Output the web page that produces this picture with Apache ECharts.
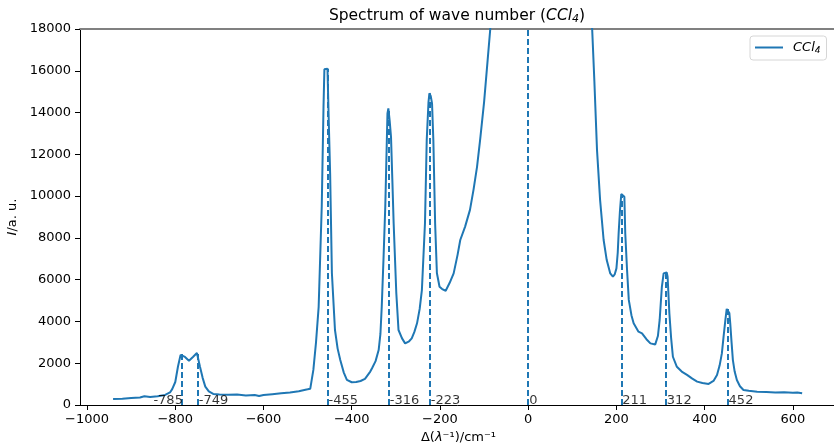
<!DOCTYPE html>
<html>
<head>
<meta charset="utf-8">
<script src="https://cdn.jsdelivr.net/npm/echarts@6/dist/echarts.min.js"></script>
<style>
  html, body { margin: 0; padding: 0; background: #fff; }
  #chart { width: 834px; height: 448px; }
</style>
</head>
<body>
<div id="chart"></div>
<script>
// spectrum (Δλ⁻¹ in cm⁻¹, intensity in a.u.)
const shift = [
  -941, -920, -900, -880, -870, -857, -840, -823, -812, -807, -800, -794, -788, -785, -778, -769,
  -760, -751, -744, -738, -732, -724, -714, -700, -680, -660, -640, -620, -610, -600, -580, -560,
  -540, -520, -500, -494, -487, -481, -475, -468, -464, -462, -459, -455, -452, -449, -445, -438,
  -432, -426, -418, -411, -400, -390, -380, -370, -366, -358, -354, -346, -339, -335, -332, -328,
  -324, -319, -317, -314, -311, -308, -305, -299, -294, -286, -279, -270, -264, -258, -252, -246,
  -241, -234, -230, -226, -224, -221, -218, -215, -211, -207, -201, -195, -187, -178, -169, -160,
  -154, -143, -132, -124, -116, -109, -100, -92, -86, -70, -50, -30, -15, 0, 15, 30,
  50, 80, 110, 130, 145, 150, 156, 163, 171, 178, 186, 192, 196, 200, 203, 205,
  208, 211, 215, 218, 220, 224, 228, 234, 239, 250, 258, 268, 277, 288, 294, 298,
  303, 307, 311, 314, 316, 320, 324, 328, 337, 348, 360, 372, 383, 395, 409, 420,
  428, 434, 439, 443, 447, 450, 453, 456, 458, 461, 464, 468, 473, 480, 488, 500,
  519, 540, 560, 580, 600, 610, 621
];
const intensity = [
  290, 300, 330, 360, 420, 380, 420, 480, 600, 760, 1100, 1830, 2400, 2490, 2300, 2120,
  2300, 2490, 1830, 1300, 880, 650, 530, 500, 490, 500, 460, 480, 430, 480, 520, 560,
  600, 660, 750, 780, 1680, 3000, 4700, 9500, 14280, 16070, 16100, 16100, 13500, 11100, 6320, 3590,
  2700, 2150, 1550, 1200, 1090, 1100, 1150, 1250, 1330, 1600, 1760, 2100, 2630, 3400, 4700, 7000,
  9490, 13960, 14200, 13600, 12840, 10800, 8700, 5360, 3590, 3190, 2950, 3050, 3190, 3500, 3910, 4600,
  5500, 8700, 12690, 14500, 14920, 14800, 14440, 12690, 8700, 6320, 5660, 5550, 5470, 5850, 6300, 7200,
  7900, 8540, 9340, 10300, 11400, 12690, 14500, 16500, 18000, 22000, 28000, 38000, 50000, 60000, 50000, 40000,
  30000, 24000, 21000, 19500, 18000, 15500, 12200, 9810, 7900, 6940, 6300, 6140, 6250, 6540, 7300, 8220,
  9300, 10100, 10100, 9970, 8220, 6500, 5030, 4300, 3910, 3510, 3430, 3150, 2950, 2900, 3300, 4070,
  5660, 6300, 6380, 6350, 6140, 4390, 3200, 2310, 1830, 1600, 1440, 1260, 1120, 1050, 1010, 1150,
  1440, 1900, 2470, 3300, 4070, 4600, 4660, 4400, 3910, 3000, 2150, 1600, 1200, 900, 720, 680,
  640, 620, 600, 610, 590, 600, 560
];

// marked peaks and the height each dashed line reaches
const peakShift = [-785, -749, -455, -316, -223, 0, 211, 312, 452];
const peakHeight = [2490, 2490, 16100, 14200, 14920, 18000, 10100, 6380, 4660];

const xTicks = [-1000, -800, -600, -400, -200, 0, 200, 400, 600];

const BLUE = '#1f77b4';
const FONT = 'DejaVu Sans';

const chart = echarts.init(document.getElementById('chart'), null, { renderer: 'canvas' });

const titleRich = {
  n: { fontFamily: FONT, fontSize: 15.5, fontWeight: 'normal', color: '#000' },
  i: { fontFamily: FONT, fontSize: 15.5, fontWeight: 'normal', fontStyle: 'italic', color: '#000' },
  s: { fontFamily: FONT, fontSize: 11, fontWeight: 'normal', fontStyle: 'italic', color: '#000', padding: [8, 0, 0, 0] }
};

chart.setOption({
  animation: false,
  title: {
    text: '{n|Spectrum of wave number (}{i|CCl}{s|4}{n|)}',
    left: 452,
    top: 1,
    textAlign: 'center',
    textStyle: { fontWeight: 'normal', rich: titleRich }
  },
  legend: {
    left: 750,
    top: 36,
    padding: [5, 6, 5, 5],
    borderColor: '#d6d6d6',
    borderWidth: 1,
    borderRadius: 3,
    icon: 'rect',
    itemWidth: 28,
    itemHeight: 2,
    data: ['CCl4'],
    formatter: () => '{i|CCl}{s|4}',
    textStyle: {
      padding: [0, 0, 0, 5],
      rich: {
        i: { fontFamily: FONT, fontSize: 13, fontStyle: 'italic', color: '#000' },
        s: { fontFamily: FONT, fontSize: 9, fontStyle: 'italic', color: '#000', padding: [6, 0, 0, 0] }
      }
    }
  },
  grid: { left: 80, width: 757, top: 29, height: 376, containLabel: false, outerBoundsMode: 'none' },
  xAxis: [{
    type: 'value',
    min: -1016,
    max: 700,
    name: '{n|Δ(}{i|λ}{n|⁻¹)/cm⁻¹}',
    nameLocation: 'middle',
    nameGap: 26,
    nameTextStyle: {
      rich: {
        n: { fontFamily: FONT, fontSize: 13, color: '#000' },
        i: { fontFamily: FONT, fontSize: 13, fontStyle: 'italic', color: '#000' }
      }
    },
    splitLine: { show: false },
    axisLine: { onZero: false, lineStyle: { color: '#000', width: 1 } },
    axisTick: { customValues: xTicks, length: 5, lineStyle: { color: '#000' } },
    axisLabel: {
      customValues: xTicks,
      margin: 8,
      fontFamily: FONT,
      fontSize: 13,
      color: '#000',
      formatter: (v) => (v < 0 ? '\u2212' + Math.abs(v) : String(v))
    }
  }, {
    type: 'value',
    position: 'top',
    min: -1016,
    max: 700,
    axisLine: { show: true, onZero: false, lineStyle: { color: '#808080', width: 2 } },
    axisTick: { show: false },
    axisLabel: { show: false },
    splitLine: { show: false }
  }],
  yAxis: {
    type: 'value',
    min: 0,
    max: 18000,
    interval: 2000,
    name: '{i|I}{n|/a. u.}',
    nameLocation: 'middle',
    nameRotate: 90,
    nameGap: 59,
    nameTextStyle: {
      rich: {
        n: { fontFamily: FONT, fontSize: 13, color: '#000' },
        i: { fontFamily: FONT, fontSize: 13, fontStyle: 'italic', color: '#000' }
      }
    },
    splitLine: { show: false },
    axisLine: { show: true, onZero: false, lineStyle: { color: '#000', width: 1 } },
    axisTick: { show: true, length: 5, lineStyle: { color: '#000' } },
    axisLabel: { margin: 9, fontFamily: FONT, fontSize: 13, color: '#000', formatter: (v) => String(v) }
  },
  series: [{
    name: 'CCl4',
    type: 'line',
    data: shift.map((x, i) => [x, intensity[i]]),
    symbol: 'none',
    clip: true,
    color: BLUE,
    lineStyle: { width: 2, color: BLUE },
    emphasis: { disabled: true },
    markLine: {
      silent: true,
      symbol: 'none',
      label: { show: false },
      lineStyle: { type: [6, 3], width: 2, color: BLUE },
      emphasis: { disabled: true },
      data: peakShift.map((x, i) => [{ coord: [x, 0] }, { coord: [x, peakHeight[i]] }])
    }
  }, {
    // peak labels sitting on the x axis
    type: 'scatter',
    silent: true,
    clip: false,
    symbolSize: 0,
    itemStyle: { color: 'rgba(0,0,0,0)' },
    z: 5,
    data: peakShift.map((x, i) => ({
      value: [x, 0],
      label: i === 0 ? { align: 'right', offset: [1, 2] } : { align: 'left', offset: [1, 2] }
    })),
    label: {
      show: true,
      position: [0, 0],
      verticalAlign: 'bottom',
      fontFamily: FONT,
      fontSize: 13,
      color: '#000',
      formatter: (p) => String(p.value[0])
    }
  }]
});
</script>
</body>
</html>
